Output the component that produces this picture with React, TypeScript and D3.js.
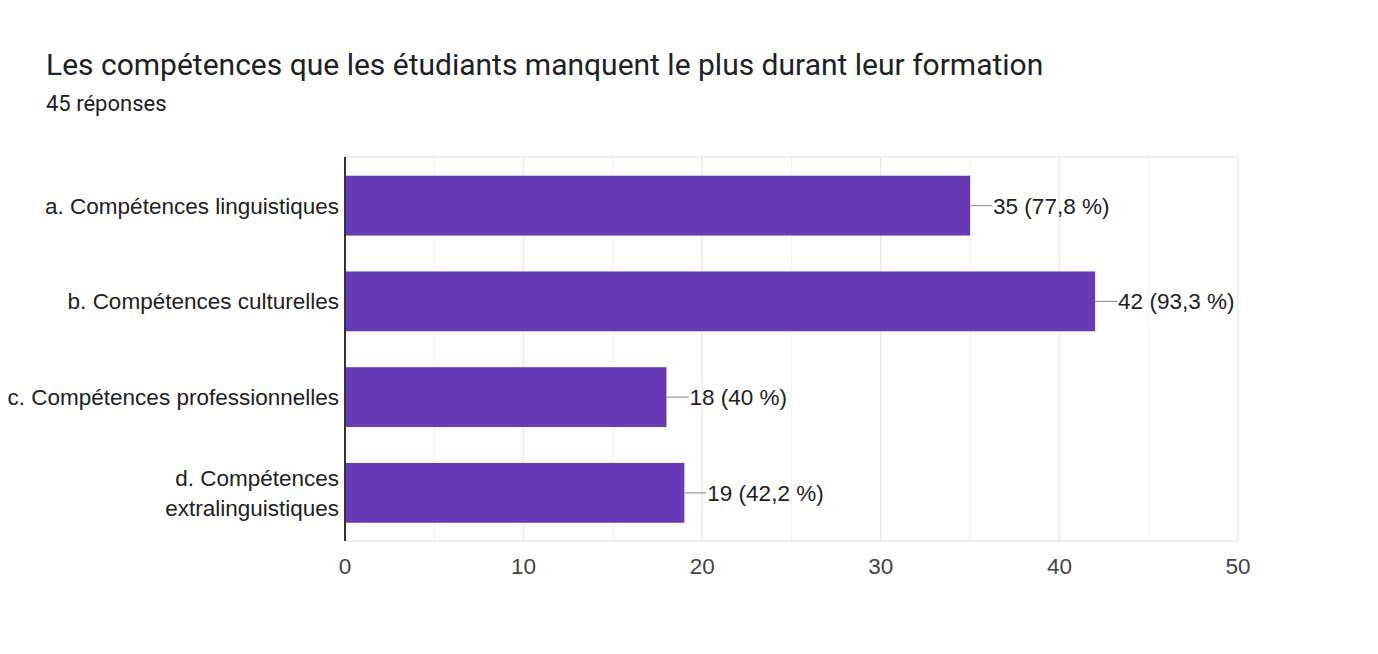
import React from "react";
import * as d3 from "d3";

const title = "Les compétences que les étudiants manquent le plus durant leur formation";
const subtitle = "45 réponses";
const categories = [
  ["a. Compétences linguistiques"],
  ["b. Compétences culturelles"],
  ["c. Compétences professionnelles"],
  ["d. Compétences", "extralinguistiques"],
];
const values = [35, 42, 18, 19];
const valueLabels = ["35 (77,8 %)", "42 (93,3 %)", "18 (40 %)", "19 (42,2 %)"];
const majorTicks = [0, 10, 20, 30, 40, 50];
const minorTicks = [5, 15, 25, 35, 45];

const W = 1378;
const H = 654;
const plot = { left: 345, right: 1238, top: 157, bottom: 541 };

export default function App() {
  const x = d3.scaleLinear().domain([0, 50]).range([plot.left, plot.right]);
  const y = d3
    .scaleBand<number>()
    .domain(d3.range(categories.length))
    .range([plot.top + 1.5, plot.bottom - 1])
    .paddingInner(0.375)
    .paddingOuter(0.18);
  const labelFont = "Arial, 'Liberation Sans', sans-serif";
  return (
    <svg
      width={W}
      height={H}
      style={{ position: "absolute", left: 0, top: 0, background: "#fff" }}
    >
      <text x={46} y={75} fontFamily="Roboto" fontSize={30} fill="#202124">
        {title}
      </text>
      <text x={46} y={111} fontFamily="Roboto" fontSize={22} fill="#202124">
        {subtitle}
      </text>
      {minorTicks.map((t) => (
        <line key={"m" + t} x1={x(t)} x2={x(t)} y1={plot.top} y2={plot.bottom} stroke="#f5f5f5" strokeWidth={1.5} />
      ))}
      {majorTicks.map((t) => (
        <line key={"M" + t} x1={x(t)} x2={x(t)} y1={plot.top} y2={plot.bottom} stroke="#ebebeb" strokeWidth={1.5} />
      ))}
      <line x1={plot.left} x2={plot.right} y1={plot.top} y2={plot.top} stroke="#ebebeb" strokeWidth={1.5} />
      <line x1={plot.left} x2={plot.right} y1={plot.bottom} y2={plot.bottom} stroke="#ebebeb" strokeWidth={1.5} />
      {values.map((v, i) => {
        const y0 = y(i)!;
        const bw = y.bandwidth();
        const cy = y0 + bw / 2;
        return (
          <g key={i}>
            <rect x={x(0)} y={y0} width={x(v) - x(0)} height={bw} fill="#673ab7" />
            <line x1={x(v)} x2={x(v) + 22} y1={cy} y2={cy} stroke="#999" strokeWidth={1.2} />
            <text x={x(v) + 23} y={cy} dy="0.35em" fontFamily={labelFont} fontSize={22.5} fill="#222">
              {valueLabels[i]}
            </text>
            {categories[i].map((line, j) => (
              <text
                key={j}
                x={339}
                y={cy + (j - (categories[i].length - 1) / 2) * 30}
                dy="0.35em"
                textAnchor="end"
                fontFamily={labelFont}
                fontSize={22.5}
                fill="#222"
              >
                {line}
              </text>
            ))}
          </g>
        );
      })}
      <line x1={plot.left} x2={plot.left} y1={plot.top} y2={plot.bottom} stroke="#333" strokeWidth={2} />
      {majorTicks.map((t) => (
        <text key={"t" + t} x={x(t)} y={566} dy="0.35em" textAnchor="middle" fontFamily={labelFont} fontSize={22.5} fill="#444">
          {t}
        </text>
      ))}
    </svg>
  );
}
